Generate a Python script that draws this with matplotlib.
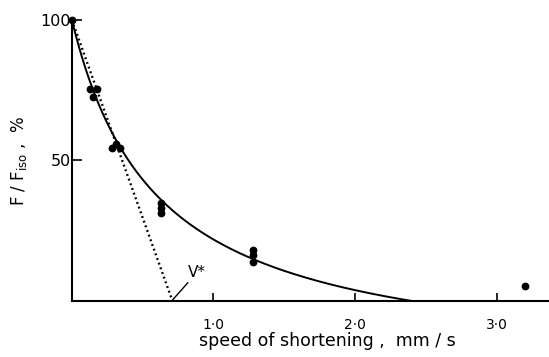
import matplotlib
matplotlib.use("Agg")
import matplotlib.pyplot as plt
import numpy as np

# Measured force-velocity points (speed in mm/s, force as % of isometric)
speed = [0.0, 0.128, 0.175, 0.151, 0.28, 0.31, 0.34,
         0.63, 0.63, 0.63, 1.28, 1.28, 1.28, 3.20]
force = [100.0, 75.4, 75.4, 72.6, 54.5, 55.7, 54.6,
         35.0, 33.1, 31.2, 18.3, 16.3, 13.9, 5.3]

# Hill hyperbola fitted to the points: (F + a)(v + b) = (F0 + a) b
F0 = 100.0
a_rel = 0.25          # a / F0
b_hill = 0.60         # mm/s
v_max = b_hill / a_rel

# Linear extrapolation of the low-speed points to zero force
v_star = 0.71

x_ticks = [1.0, 2.0, 3.0]
x_ticklabels = ["1\u00b70", "2\u00b70", "3\u00b70"]
y_ticks = [50, 100]
y_ticklabels = ["50", "100"]

plt.rcParams["font.family"] = ["DejaVu Sans"]

fig = plt.figure(figsize=(5.49, 3.57), dpi=100)
ax = fig.add_axes([0.131, 0.157, 0.869, 0.787])

v = np.linspace(0, v_max, 300)
F = F0 * ((1 + a_rel) * b_hill / (v + b_hill) - a_rel)
ax.plot(v, F, color="black", lw=1.4, clip_on=False)

ax.plot([0, v_star], [F0, 0], color="black", lw=1.7,
        linestyle=(0, (0.8, 1.3)), clip_on=False)

ax.plot(speed, force, "o", color="black", ms=4.6, clip_on=False)

# V* annotation with leader line
ax.annotate("V*", xy=(v_star, 0.3), xytext=(0.82, 7.5),
            fontsize=11, ha="left", va="bottom",
            arrowprops=dict(arrowstyle="-", color="black", lw=1.0,
                            shrinkA=0, shrinkB=0))

ax.set_xlim(0, 3.37)
ax.set_ylim(0, 100)

for side in ("top", "right"):
    ax.spines[side].set_visible(False)
for side in ("left", "bottom"):
    ax.spines[side].set_linewidth(1.5)

ax.set_xticks(x_ticks)
ax.set_xticklabels(x_ticklabels, fontsize=10)
ax.set_yticks(y_ticks)
ax.set_yticklabels(y_ticklabels, fontsize=11.5)
ax.tick_params(axis="x", direction="in", length=6, width=1.2, pad=12)
ax.tick_params(axis="y", direction="in", length=7, width=1.2, pad=1)

ax.set_xlabel("speed of shortening ,  mm / s", fontsize=12.5)
ax.xaxis.set_label_coords(0.535, -0.112)
ax.set_ylabel(r"F / F$_{\rm iso}$ ,  %", fontsize=12, labelpad=8)

fig.savefig("out.png", dpi=100)
